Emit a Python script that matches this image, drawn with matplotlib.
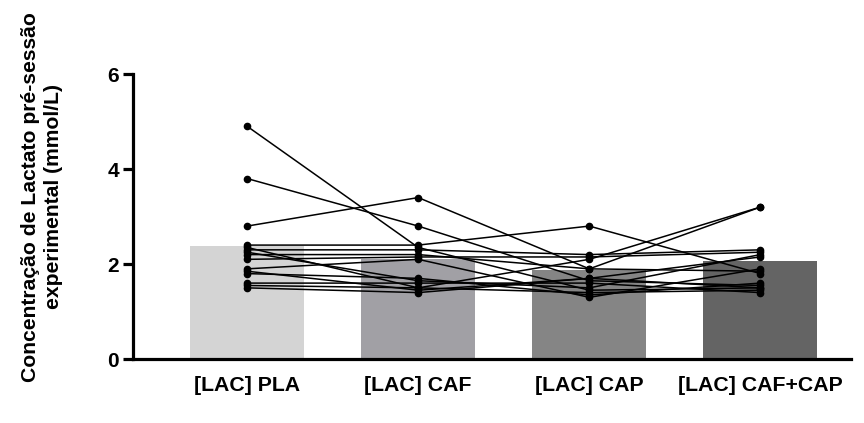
import matplotlib
matplotlib.use("Agg")
import matplotlib.pyplot as plt
import numpy as np

plt.rcParams['font.family'] = ['Liberation Sans', 'DejaVu Sans']

categories = ["[LAC] PLA", "[LAC] CAF", "[LAC] CAP", "[LAC] CAF+CAP"]
bar_means = [2.38, 2.10, 1.87, 2.07]
bar_colors = ["#d4d4d4", "#a1a0a5", "#858585", "#646464"]

# one row per subject: PLA, CAF, CAP, CAF+CAP (mmol/L)
subjects = [
    [4.9, 2.35, 1.45, 1.5],
    [3.8, 2.8, 1.65, 1.55],
    [2.8, 3.4, 1.9, 3.2],
    [2.4, 2.4, 2.8, 1.8],
    [2.35, 1.5, 2.1, 3.2],
    [2.3, 2.3, 2.2, 2.3],
    [2.25, 1.65, 1.5, 2.2],
    [2.2, 2.2, 1.9, 1.85],
    [2.1, 2.15, 2.15, 2.25],
    [1.9, 2.1, 1.3, 1.9],
    [1.85, 1.45, 1.7, 2.15],
    [1.8, 1.7, 1.35, 1.6],
    [1.6, 1.6, 1.6, 1.4],
    [1.55, 1.5, 1.4, 1.45],
    [1.5, 1.4, 1.7, 1.5],
]

fig = plt.figure(figsize=(8.64, 4.23), dpi=100)
ax = fig.add_axes([0.154, 0.151, 0.831, 0.674])

x = np.arange(len(categories))
ax.bar(x, bar_means, width=0.667, color=bar_colors, zorder=1)

for s in subjects:
    ax.plot(x, s, color="black", linewidth=1.1, marker="o", markersize=4.5, zorder=3)

ax.set_xlim(-0.667, 3.53)
ax.set_ylim(0, 6)
ax.set_yticks([0, 2, 4, 6])
ax.set_xticks(x)
ax.set_xticklabels(categories, fontsize=15.3, fontweight="bold")
for lbl in ax.get_yticklabels():
    lbl.set_fontsize(15)
    lbl.set_fontweight("bold")

ax.spines["top"].set_visible(False)
ax.spines["right"].set_visible(False)
ax.spines["left"].set_linewidth(2.3)
ax.spines["bottom"].set_linewidth(2.3)
ax.tick_params(axis="y", length=7, width=2.3, pad=3)
ax.tick_params(axis="x", length=0, pad=12)

ax.set_ylabel("Concentração de Lactato pré-sessão\nexperimental (mmol/L)",
              fontsize=15.2, fontweight="bold", linespacing=1.3)
ax.yaxis.set_label_coords(-0.0975, 0.57)

fig.savefig("out.png", dpi=100)
